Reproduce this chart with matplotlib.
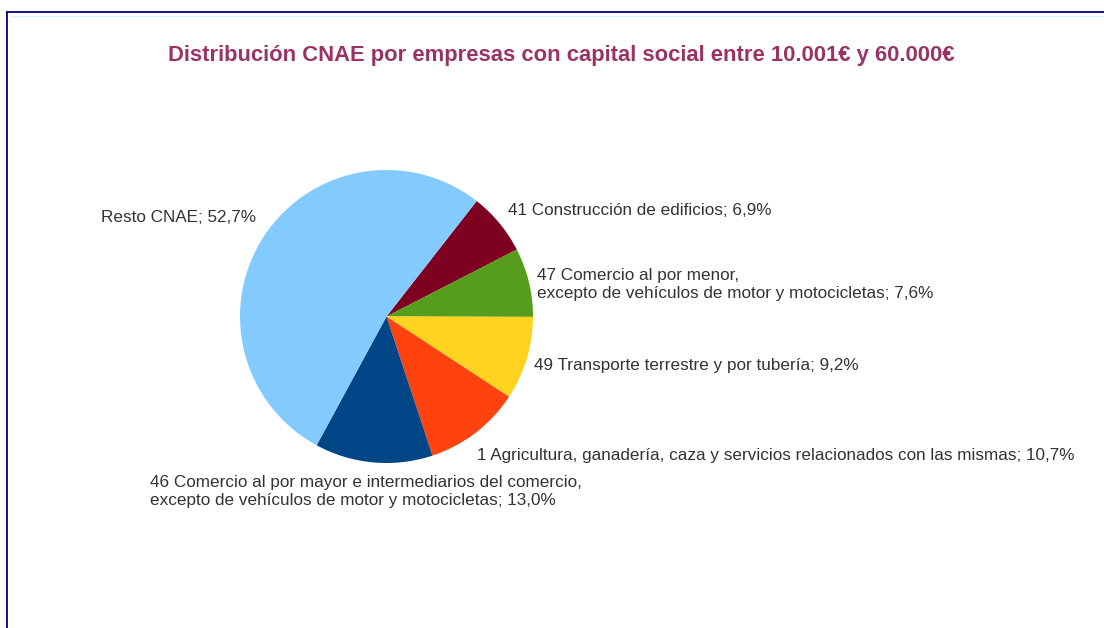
import numpy as np
import matplotlib
matplotlib.use("Agg")
import matplotlib.pyplot as plt
from matplotlib.lines import Line2D

plt.rcParams['font.family'] = ['Liberation Sans', 'DejaVu Sans']

# data, in drawing order (clockwise from the top right)
labels = [
    "41 Construcción de edificios; 6,9%",
    "47 Comercio al por menor,\nexcepto de vehículos de motor y motocicletas; 7,6%",
    "49 Transporte terrestre y por tubería; 9,2%",
    "1 Agricultura, ganadería, caza y servicios relacionados con las mismas; 10,7%",
    "46 Comercio al por mayor e intermediarios del comercio,\nexcepto de vehículos de motor y motocicletas; 13,0%",
    "Resto CNAE; 52,7%",
]
shares = [6.9, 7.6, 9.2, 10.7, 13.0, 52.7]
colors = ["#7e0021", "#579d1c", "#ffd320", "#ff420e", "#004586", "#83caff"]

W, H = 1104, 628
fig = plt.figure(figsize=(W / 100, H / 100), dpi=100)

# pie axes: centre (386.5, 316.5) px, radius 146.5 px
cx, cy, r = 386.5, 316.5, 146.5
ax = fig.add_axes([(cx - r) / W, (H - cy - r) / H, 2 * r / W, 2 * r / H])
wedges, _ = ax.pie(shares, colors=colors, startangle=52, counterclock=False,
                   radius=1, wedgeprops=dict(linewidth=0))
ax.set_xlim(-1, 1)
ax.set_ylim(-1, 1)
ax.set_aspect('equal')
ax.axis('off')

# label placement per wedge: (radius factor, ha, va, dx, dy) offsets in data units
place = [
    (1.10, 'left', 'center', -0.02, 0.02),
    (1.10, 'left', 'center', -0.04, -0.04),
    (1.10, 'left', 'center', -0.05, -0.02),
    (1.10, 'left', 'center', -0.05, -0.075),
    (1.07, 'center', 'top', -0.045, -0.015),
    (1.10, 'right', 'center', 0.03, 0.07),
]
for w, lab, (f, ha, va, dx, dy) in zip(wedges, labels, place):
    ang = np.deg2rad((w.theta1 + w.theta2) / 2)
    x = f * np.cos(ang) + dx
    y = f * np.sin(ang) + dy
    ax.text(x, y, lab, ha=ha, va=va, fontsize=12.3, color="#333333",
            linespacing=1.3, clip_on=False,
            multialignment='left')

fig.text(561.5 / W, 1 - 55 / H,
         "Distribución CNAE por empresas con capital social entre 10.001€ y 60.000€",
         ha='center', va='center', fontsize=15.8, fontweight='bold', color="#993366")

# frame
fig.add_artist(Line2D([7 / W, 1], [1 - 12 / H, 1 - 12 / H], color="#000080", lw=1.3))
fig.add_artist(Line2D([7 / W, 7 / W], [0, 1 - 12 / H], color="#000080", lw=1.3))
fig.add_artist(Line2D([11 / W, 1], [1 - 16 / H, 1 - 16 / H], color="#ddeeff", lw=1.0))

fig.savefig("out.png", dpi=100)
